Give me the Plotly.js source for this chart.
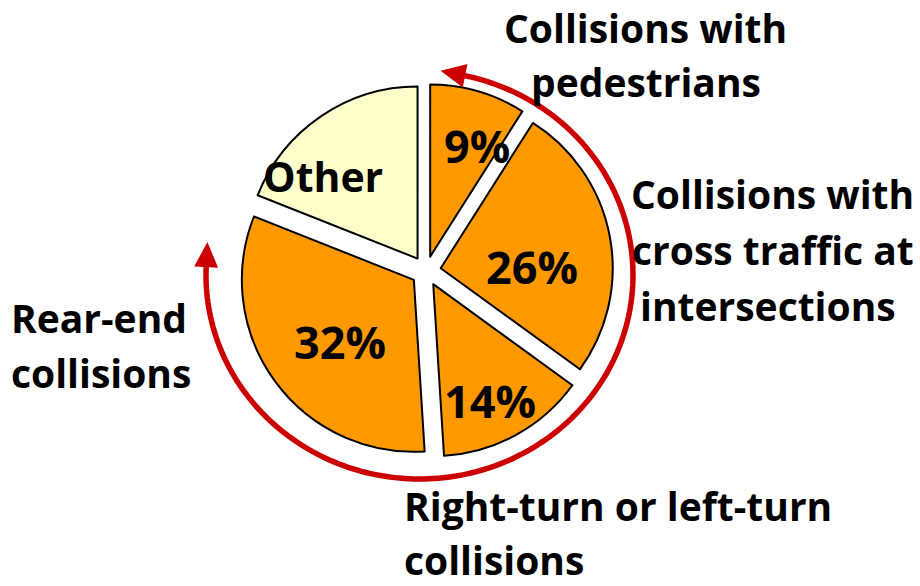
<!DOCTYPE html>
<html><head><meta charset="utf-8">
<script src="https://cdn.plot.ly/plotly-3.0.1.min.js"></script>
<style>html,body{margin:0;padding:0;background:#fff}#chart{width:920px;height:586px}</style>
</head><body><div id="chart"></div>
<script>
// ---- data ----
const categories = ['Collisions with pedestrians', 'Collisions with cross traffic at intersections', 'Right-turn or left-turn collisions', 'Rear-end collisions', 'Other'];
const shares = [9, 26, 14, 32, 19];
const sliceLabels = ['9%', '26%', '14%', '32%', 'Other'];
const sliceColors = ['#FF9900', '#FF9900', '#FF9900', '#FF9900', '#FFFFCC'];

// ---- layout helpers (pixel -> paper) ----
const W = 920, H = 586;
const px = x => x / W, py = y => 1 - y / H;

// pie geometry
const CX = 426, CY = 271, R = 172, PULL = 15 / R;
const HALF = R * (1 + PULL);

const FONT = '"Open Sans", "Noto Sans", sans-serif';

// slice label placement (pixel centres)
const sliceLabelPos = [[477, 146], [532, 266], [490, 400], [340, 341], [323, 176]];
const sliceLabelSize = [45, 45, 45, 45, 41];

// outer label lines: [text, x, y (middle), anchor]
const outerLines = [
  ['Collisions with', 645, 27, 'center'],
  ['pedestrians', 646, 82, 'center'],
  ['Collisions with', 772, 193, 'center'],
  ['cross traffic at', 773, 249, 'center'],
  ['intersections', 768, 305, 'center'],
  ['Rear-end', 10, 317, 'left'],
  ['collisions', 10, 372, 'left'],
  ['Right-turn or left-turn', 403, 505.5, 'left'],
  ['collisions', 403, 559, 'left']
];

const annotations = [];
sliceLabels.forEach((t, i) => {
  annotations.push({
    text: t, x: px(sliceLabelPos[i][0]), y: py(sliceLabelPos[i][1]), xref: 'paper', yref: 'paper',
    showarrow: false, xanchor: 'center', yanchor: 'middle', borderpad: 0,
    font: {family: FONT, size: sliceLabelSize[i], color: '#000', weight: 700}
  });
});
outerLines.forEach(l => {
  annotations.push({
    text: l[0], x: px(l[1]), y: py(l[2]), xref: 'paper', yref: 'paper',
    showarrow: false, xanchor: l[3], yanchor: 'middle', borderpad: 0,
    font: {family: FONT, size: 39, color: '#000', weight: 700}
  });
});

// red circular arrow (decoration)
const ACX = 419.5, ACY = 275, ARX = 213.5, ARY = 204;
const t0 = 182.8, t1 = -78.2;
const pts = [];
for (let k = 0; k <= 200; k++) {
  const t = (t0 + (t1 - t0) * k / 200) * Math.PI / 180;
  pts.push([ACX + ARX * Math.cos(t), ACY + ARY * Math.sin(t)]);
}
const arcPath = 'M' + pts.map(p => px(p[0]).toFixed(5) + ',' + py(p[1]).toFixed(5)).join(' L');

function arrowHead(tDeg, sign) {
  const t = tDeg * Math.PI / 180;
  const ex = ACX + ARX * Math.cos(t), ey = ACY + ARY * Math.sin(t);
  let dx = -ARX * Math.sin(t) * sign, dy = ARY * Math.cos(t) * sign;
  const n = Math.hypot(dx, dy); dx /= n; dy /= n;
  const L = 23, hw = 12;
  const bx = ex - dx * 2, by = ey - dy * 2;
  const tip = [ex + dx * L, ey + dy * L];
  const a = [bx - dy * hw, by + dx * hw];
  const b = [bx + dy * hw, by - dx * hw];
  return 'M' + [tip, a, b].map(p => px(p[0]).toFixed(5) + ',' + py(p[1]).toFixed(5)).join(' L') + ' Z';
}

const shapes = [
  {type: 'path', xref: 'paper', yref: 'paper', path: arcPath, line: {color: '#CC0000', width: 5.5}},
  {type: 'path', xref: 'paper', yref: 'paper', path: arrowHead(t0, 1), fillcolor: '#CC0000', line: {color: '#CC0000', width: 0}},
  {type: 'path', xref: 'paper', yref: 'paper', path: arrowHead(t1, -1), fillcolor: '#CC0000', line: {color: '#CC0000', width: 0}}
];

const trace = {
  type: 'pie',
  labels: categories,
  values: shares,
  sort: false,
  direction: 'clockwise',
  rotation: 0,
  pull: shares.map(() => PULL),
  marker: {colors: sliceColors, line: {color: '#000', width: 2}},
  textinfo: 'none',
  hoverinfo: 'label+percent',
  showlegend: false,
  domain: {x: [px(CX - HALF), px(CX + HALF)], y: [py(CY + HALF), py(CY - HALF)]}
};

Plotly.newPlot('chart', [trace], {
  width: W, height: H,
  margin: {l: 0, r: 0, t: 0, b: 0},
  paper_bgcolor: '#fff',
  showlegend: false,
  annotations: annotations,
  shapes: shapes
}, {displayModeBar: false, staticPlot: true});
</script></body></html>
